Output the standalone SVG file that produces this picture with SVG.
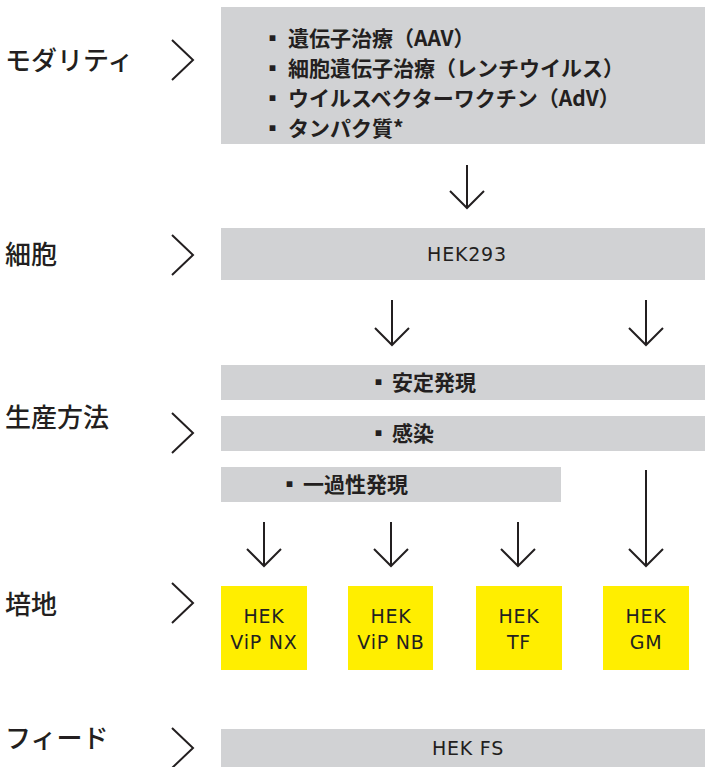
<svg xmlns="http://www.w3.org/2000/svg" width="705" height="767" viewBox="0 0 705 767">
<defs>
<style>
.lbl{font-family:"Noto Sans CJK JP","Noto Sans",sans-serif;font-size:26px;font-weight:500;fill:#231f20}
.jp{font-family:"Noto Sans CJK JP","Noto Sans",sans-serif;font-size:21px;font-weight:700;fill:#231f20}
.en{font-family:"DejaVu Sans","Noto Sans",sans-serif;font-size:19px;letter-spacing:0.8px;fill:#231f20;text-anchor:middle}
.grey{fill:#d1d2d4}
.yel{fill:#ffee00}
.chev{fill:none;stroke:#231f20;stroke-width:2}
.arr{fill:none;stroke:#231f20;stroke-width:2}
</style>
</defs>
<rect width="705" height="767" fill="#ffffff"/>

<g id="label-modality">
<text class="lbl" x="5" y="70">モダリティ</text>
<polyline class="chev" points="172,40 193,60 172,80"/>
</g>
<g id="label-cell">
<text class="lbl" x="5" y="264">細胞</text>
<polyline class="chev" points="172,235 193,255 172,275"/>
</g>
<g id="label-production">
<text class="lbl" x="5" y="427">生産方法</text>
<polyline class="chev" points="172,413 193,433 172,453"/>
</g>
<g id="label-medium">
<text class="lbl" x="5" y="614">培地</text>
<polyline class="chev" points="172,583 193,603 172,623"/>
</g>
<g id="label-feed">
<text class="lbl" x="5" y="748">フィード</text>
<polyline class="chev" points="172,728 193,748 172,768"/>
</g>

<g id="node-modality">
<rect class="grey" x="221" y="7" width="484" height="137"/>
<text class="jp" y="46"><tspan x="262">▪</tspan><tspan x="288">遺伝子治療（AAV）</tspan></text>
<text class="jp" y="76"><tspan x="262">▪</tspan><tspan x="288">細胞遺伝子治療（レンチウイルス）</tspan></text>
<text class="jp" y="106"><tspan x="262">▪</tspan><tspan x="288">ウイルスベクターワクチン（AdV）</tspan></text>
<text class="jp" y="136"><tspan x="262">▪</tspan><tspan x="288">タンパク質*</tspan></text>
</g>

<g id="node-hek293">
<rect class="grey" x="221" y="228" width="484" height="52"/>
<text class="en" x="467" y="261">HEK293</text>
</g>

<g id="node-stable">
<rect class="grey" x="221" y="365" width="484" height="35"/>
<text class="jp" y="390"><tspan x="368">▪</tspan><tspan x="392">安定発現</tspan></text>
</g>
<g id="node-infection">
<rect class="grey" x="221" y="416" width="484" height="35"/>
<text class="jp" y="441"><tspan x="368">▪</tspan><tspan x="392">感染</tspan></text>
</g>
<g id="node-transient">
<rect class="grey" x="221" y="467" width="340" height="35"/>
<text class="jp" y="492"><tspan x="279">▪</tspan><tspan x="303">一過性発現</tspan></text>
</g>

<g id="node-vipnx">
<rect class="yel" x="221" y="586" width="86" height="84"/>
<text class="en" x="264" y="623">HEK</text>
<text class="en" x="264" y="649">ViP NX</text>
</g>
<g id="node-vipnb">
<rect class="yel" x="348" y="586" width="85" height="84"/>
<text class="en" x="391" y="623">HEK</text>
<text class="en" x="391" y="649">ViP NB</text>
</g>
<g id="node-tf">
<rect class="yel" x="476" y="586" width="86" height="84"/>
<text class="en" x="519" y="623">HEK</text>
<text class="en" x="519" y="649">TF</text>
</g>
<g id="node-gm">
<rect class="yel" x="603" y="586" width="86" height="84"/>
<text class="en" x="646" y="623">HEK</text>
<text class="en" x="646" y="649">GM</text>
</g>

<g id="node-feed">
<rect class="grey" x="221" y="729" width="484" height="38"/>
<text class="en" x="468" y="755">HEK FS</text>
</g>

<g id="connectors">
<path class="arr" d="M467,165 V208 M450,191 L467,208 L484,191"/>
<path class="arr" d="M392,300 V345 M375,328 L392,345 L409,328"/>
<path class="arr" d="M646,300 V345 M629,328 L646,345 L663,328"/>
<path class="arr" d="M264,522 V566 M247,549 L264,566 L281,549"/>
<path class="arr" d="M391,522 V566 M374,549 L391,566 L408,549"/>
<path class="arr" d="M518,522 V566 M501,549 L518,566 L535,549"/>
<path class="arr" d="M646,470 V566 M629,549 L646,566 L663,549"/>
</g>
</svg>
